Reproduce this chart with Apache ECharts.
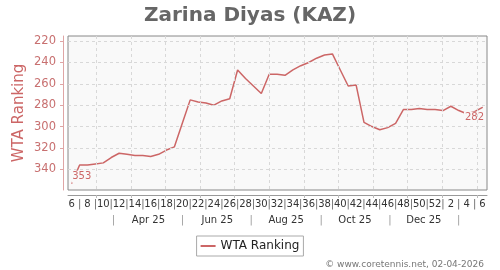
<!DOCTYPE html>
<html><head><meta charset="utf-8">
<script src="https://cdn.jsdelivr.net/npm/echarts@6/dist/echarts.min.js"></script>
<style>html,body{margin:0;padding:0;background:#fff}#c{width:500px;height:270px}</style>
</head><body><div id="c"></div>
<script>
// ---- data ----
const weekNumbers = [6,7,8,9,10,11,12,13,14,15,16,17,18,19,20,21,22,23,24,25,26,27,28,29,30,31,32,33,34,35,36,37,38,39,40,41,42,43,44,45,46,47,48,49,50,51,52,1,2,3,4,5,6];
const rankings = [353,336,336,335,334,329,325,326,327,327,328,326,322,319,297,275,277,278,280,276,274,247,255,262,269,251,251,252,247,243,240,236,233,232,247,262,261,296,300,303,301,297,284,284,283,284,284,285,281,285,288,286,282];
const firstWeekDate = [2025, 2, 7];
const yTicks = [220, 240, 260, 280, 300, 320, 340];
const monthStarts = [[2025,3],[2025,4],[2025,5],[2025,6],[2025,7],[2025,8],[2025,9],[2025,10],[2025,11],[2025,12],[2026,1],[2026,2]];
const monthLabels = ['Apr 25', 'Jun 25', 'Aug 25', 'Oct 25', 'Dec 25'];
const monthLabelMonths = [[2025,4],[2025,6],[2025,8],[2025,10],[2025,12]];
const monthSepMonths = [[2025,3],[2025,5],[2025,7],[2025,9],[2025,11],[2026,1]];
const seriesName = 'WTA Ranking';

// ---- helpers ----
const base = Date.UTC(2025, 0, 1);
const dayOf = (y, m, d) => (Date.UTC(y, m - 1, d) - base) / 86400000;
const d0 = dayOf(firstWeekDate[0], firstWeekDate[1], firstWeekDate[2]);
const weekDays = weekNumbers.map((_, i) => d0 + 7 * i);
const red = '#cc6666';
const FONT = 'DejaVu Sans';
const lineData = rankings.map((v, i) => {
  const item = { value: [weekDays[i], v] };
  if (i === 0) {
    item.symbol = 'circle'; item.symbolSize = 1;
    item.label = { show: true, position: 'top', distance: 0, offset: [10, 0] };
  }
  if (i === rankings.length - 1) {
    item.symbol = 'circle'; item.symbolSize = 1;
    item.label = { show: true, position: 'bottom', distance: 4, offset: [-8, 0] };
  }
  return item;
});
const monthDays = monthStarts.map(m => dayOf(m[0], m[1], 1));
const labelDays = monthLabelMonths.map(m => dayOf(m[0], m[1], 16));
const sepDays = monthSepMonths.map(m => dayOf(m[0], m[1], 16));
const weekLabelMap = {};
weekDays.forEach((d, i) => { weekLabelMap[d] = (i % 2 === 0) ? String(weekNumbers[i]) : '{s||}'; });
const monthLabelMap = {};
labelDays.forEach((d, i) => { monthLabelMap[d] = monthLabels[i]; });
sepDays.forEach(d => { monthLabelMap[d] = '{s||}'; });

const xMin = 33.7, xMax = 405;

const chart = echarts.init(document.getElementById('c'), null, { renderer: 'canvas' });
chart.setOption({
  animation: false,
  textStyle: { fontFamily: FONT },
  title: [
    { text: 'Zarina Diyas (KAZ)', left: 'center', top: 1, textStyle: { fontFamily: FONT, fontSize: 20, fontWeight: 'bold', color: '#666' } },
    { text: '© www.coretennis.net, 02-04-2026', right: 11, top: 255, textStyle: { fontFamily: FONT, fontSize: 9, fontWeight: 'normal', color: '#777' } }
  ],
  legend: {
    data: [seriesName], left: 'center', top: 236, padding: [4, 4],
    borderColor: '#aaa', borderWidth: 1, icon: 'rect', itemWidth: 15, itemHeight: 2, itemGap: 4,
    textStyle: { fontFamily: FONT, fontSize: 12, color: '#222' }
  },
  grid: { left: 68, right: 13, top: 36, bottom: 80, show: true, backgroundColor: '#f9f9f9', borderColor: '#888', borderWidth: 1 },
  xAxis: [
    { type: 'value', min: xMin, max: xMax, offset: 5, position: 'bottom',
      axisLine: { show: true, lineStyle: { color: '#999', width: 1 } },
      axisTick: { show: true, length: 3, customValues: monthDays, lineStyle: { color: '#bbb' } },
      axisLabel: { show: false }, splitLine: { show: false } },
    { type: 'value', min: xMin, max: xMax, offset: 5, position: 'bottom',
      axisLine: { show: false }, axisTick: { show: false }, splitLine: { show: false },
      axisLabel: { show: true, customValues: weekDays, margin: 4, fontFamily: FONT, fontSize: 10, color: '#333',
        formatter: v => weekLabelMap[v] || '', rich: { s: { color: '#666', fontSize: 10, fontFamily: FONT } } } },
    { type: 'value', min: xMin, max: xMax, offset: 5, position: 'bottom',
      axisLine: { show: false }, axisTick: { show: false }, splitLine: { show: false },
      axisLabel: { show: true, customValues: labelDays.concat(sepDays), margin: 20, fontFamily: FONT, fontSize: 10, color: '#333',
        formatter: v => monthLabelMap[v] || '', rich: { s: { color: '#999', fontSize: 10, fontFamily: FONT } } } }
  ],
  yAxis: {
    type: 'value', inverse: true, min: 215.2, max: 359.4, offset: 5,
    name: seriesName, nameLocation: 'middle', nameGap: 36, nameRotate: 90, nameMoveOverlap: false,
    nameTextStyle: { fontFamily: FONT, fontSize: 15, color: red },
    axisLine: { show: true, lineStyle: { color: '#dfa5a5', width: 1 } },
    axisTick: { show: true, length: 3, customValues: yTicks, lineStyle: { color: '#dfa5a5' } },
    axisLabel: { show: true, customValues: yTicks, margin: 7, fontFamily: FONT, fontSize: 11.5, color: '#c87070' },
    splitLine: { show: false }
  },
  series: [
    { type: 'line', name: 'grid', data: [], z: 1, silent: true, xAxisIndex: 0,
      markLine: { silent: true, symbol: 'none', animation: false, label: { show: false },
        lineStyle: { type: [3, 3], color: '#d8d8d8', width: 1 },
        data: yTicks.map(v => ({ yAxis: v })).concat(monthDays.map(d => ({ xAxis: d }))) } },
    { type: 'line', name: seriesName, data: lineData, xAxisIndex: 0, z: 3,
      symbol: 'none', showSymbol: true, smooth: false,
      lineStyle: { color: red, width: 1.5 }, itemStyle: { color: red },
      label: { show: false, color: red, fontFamily: FONT, fontSize: 10, backgroundColor: '#f9f9f9', padding: [1, 1],
        formatter: p => String(p.value[1]) } }
  ]
});
</script></body></html>
